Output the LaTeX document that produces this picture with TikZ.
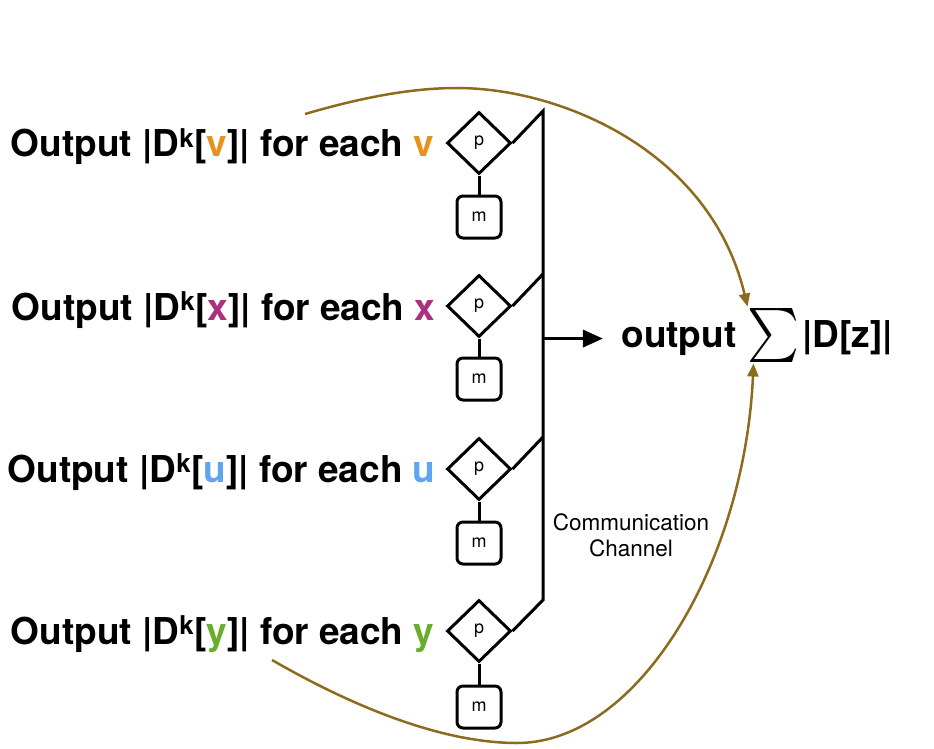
\documentclass[tikz,border=0pt]{standalone}
\usepackage{fontspec}
\setmainfont{TeX Gyre Heros}
\usepackage{graphicx}
\usepackage{xcolor}
\usetikzlibrary{shapes.geometric,arrows.meta}

\definecolor{feedbrown}{HTML}{8C6B1E}
\definecolor{vorange}{HTML}{E8921E}
\definecolor{xmagenta}{HTML}{A9327F}
\definecolor{ublue}{HTML}{5EA6F2}
\definecolor{ygreen}{HTML}{68AD2E}

\begin{document}
\begin{tikzpicture}[x=1pt, y=-1pt, line width=3pt,
  proc/.style={diamond, draw, minimum width=64pt, minimum height=62pt, inner sep=0pt, font=\fontsize{18}{20}\selectfont},
  mem/.style={rectangle, rounded corners=6pt, draw, minimum width=44pt, minimum height=42pt, inner sep=0pt, font=\fontsize{18}{20}\selectfont},
  lbl/.style={inner sep=0pt, font=\fontsize{37}{40}\selectfont\bfseries},
  feed/.style={feedbrown, line width=2.5pt, -{Triangle[length=13pt,width=11pt]}}]
\useasboundingbox (0,0) rectangle (934,749);
% processors and memories
\node[proc] (p1) at (479,143) {p};
\node[proc] (p2) at (479,306) {p};
\node[proc] (p3) at (479,469) {p};
\node[proc] (p4) at (479,631) {p};
\node[mem] (m1) at (479,217) {m};
\node[mem] (m2) at (479,379) {m};
\node[mem] (m3) at (479,543) {m};
\node[mem] (m4) at (479,707) {m};
\draw (p1.south) -- (m1.north);
\draw (p2.south) -- (m2.north);
\draw (p3.south) -- (m3.north);
\draw (p4.south) -- (m4.north);
% channel
\coordinate (j1) at (543,111);
\coordinate (j2) at (543,274);
\coordinate (j3) at (543,437);
\coordinate (j4) at (543,600);
\draw (p1.east) -- (j1) -- (j4) -- (p4.east);
\draw (p2.east) -- (j2);
\draw (p3.east) -- (j3);
\node[align=center, inner sep=0pt, font=\fontsize{22.5}{26}\selectfont] (chan) at (631,535) {Communication\\Channel};
% row labels
\node[lbl, anchor=base east] (lv) at (436,157) {Output |D\textsuperscript{k}[\textcolor{vorange}{v}]| for each \textcolor{vorange}{v}};
\node[lbl, anchor=base east] (lx) at (437,320) {Output |D\textsuperscript{k}[\textcolor{xmagenta}{x}]| for each \textcolor{xmagenta}{x}};
\node[lbl, anchor=base east] (lu) at (437,482) {Output |D\textsuperscript{k}[\textcolor{ublue}{u}]| for each \textcolor{ublue}{u}};
\node[lbl, anchor=base east] (ly) at (436,644) {Output |D\textsuperscript{k}[\textcolor{ygreen}{y}]| for each \textcolor{ygreen}{y}};
% result
\node[lbl, anchor=base east] (out) at (738,347) {output};
\node[inner sep=0pt] (sum) at (773,335) {\resizebox*{52pt}{54pt}{$\sum$}};
\node[lbl, anchor=base west] (dz) at (801,347) {|D[z]|};
\draw[line width=3.5pt, -{Triangle[length=20pt,width=17pt]}] (out.west -| j1) -- ([xshift=-17pt]out.west);
% feedback arcs
\coordinate (s1) at (305,114);
\coordinate (s4) at (272,660);
\draw[feed] (s1) .. controls (360,98) and (410,88) .. (457,88) .. controls (560,88) and (710,150) .. ([xshift=2pt]sum.north west);
\draw[feed] (s4) .. controls (350,705) and (440,743) .. (517,743) .. controls (640,743) and (745,560) .. ([xshift=8pt]sum.south west);
\end{tikzpicture}
\end{document}
